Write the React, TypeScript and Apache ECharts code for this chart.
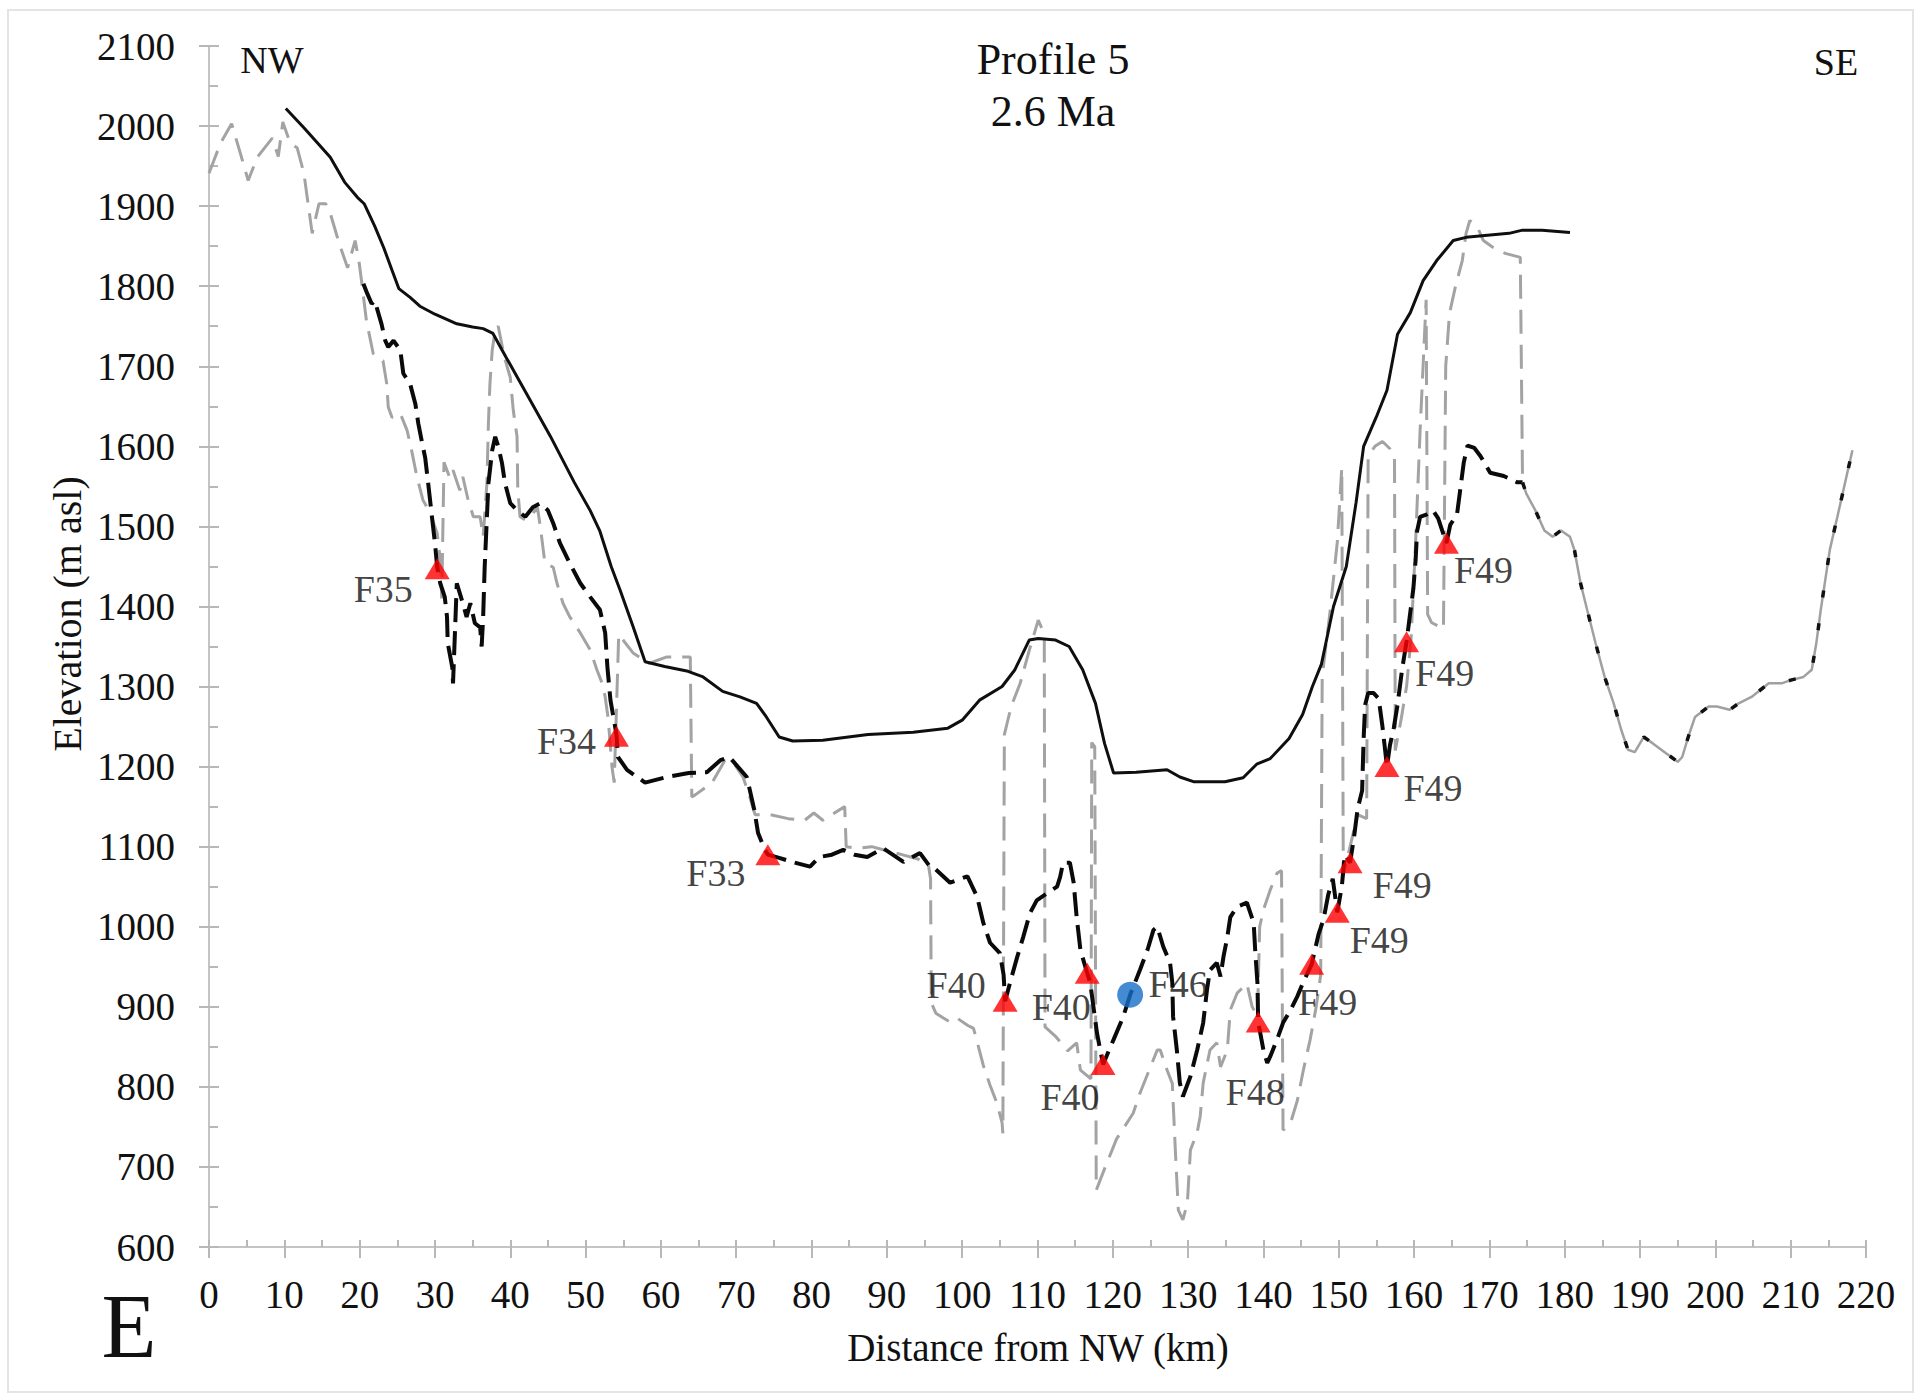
import React, { useEffect, useRef } from "react";
import * as echarts from "echarts";

const SERIF = "'Liberation Serif', 'Times New Roman', serif";

// Axis ranges and tick steps
const X_MIN = 0;
const X_MAX = 220;
const X_STEP = 10;
const Y_MIN = 600;
const Y_MAX = 2100;
const Y_STEP = 100;

// Present-day topographic envelope [distance km, elevation m asl]
const presentSurface: [number, number][] = [
  [10.2, 2022], [12.6, 1998], [14.5, 1978], [16.1, 1961], [18, 1930], [19.7, 1911],
  [20.6, 1903], [22, 1875], [23.2, 1848], [24.3, 1820], [25.2, 1797], [26.7, 1786],
  [28, 1775], [30, 1765], [32.9, 1753], [35, 1749], [36.4, 1747], [37.7, 1741],
  [39.4, 1712], [42.2, 1665], [45.3, 1613], [48.5, 1555], [50.6, 1520], [51.9, 1494],
  [53.4, 1450], [54.6, 1420], [56.3, 1375], [57.9, 1331], [60.5, 1325], [63.6, 1319],
  [65.6, 1312], [68.2, 1294], [70.5, 1287], [72.7, 1279], [74, 1262], [75.7, 1237],
  [77.5, 1232], [81.5, 1233], [87.5, 1240], [93.5, 1243], [98.1, 1248], [100, 1258],
  [102.3, 1283], [105.3, 1300], [107, 1321], [108.9, 1358], [110.1, 1360], [112.4, 1358],
  [114.2, 1350], [116, 1321], [117.7, 1279], [118.9, 1229], [120.1, 1192], [123.1, 1193],
  [127.2, 1196], [128.9, 1187], [130.8, 1181], [134.9, 1181], [137.3, 1186], [139.1, 1203],
  [140.9, 1210], [143.4, 1235], [145.2, 1265], [146.5, 1300], [147.7, 1328], [149.3, 1400],
  [151, 1450], [152.3, 1530], [153.3, 1600], [155, 1637], [156.4, 1670], [157.8, 1740],
  [159.5, 1767], [161.2, 1807], [163, 1832], [165.2, 1857], [166.9, 1861], [172.6, 1866],
  [174.4, 1870], [177, 1870], [180.7, 1867],
];

// Reconstructed 2.6 Ma surface (black dashed)
const paleoSurface: [number, number][] = [
  [20.5, 1803], [21, 1791], [21.6, 1778], [22, 1782], [22.9, 1753], [23.4, 1732],
  [23.8, 1724], [24.5, 1732], [25.4, 1720], [25.8, 1691], [26.7, 1678], [27.4, 1653],
  [27.8, 1628], [28.3, 1604], [28.7, 1586], [29.1, 1554], [29.6, 1512], [30, 1479],
  [30.3, 1449], [30.7, 1429], [31.3, 1412], [31.6, 1387], [31.7, 1354], [32.3, 1324],
  [32.4, 1304], [32.9, 1429], [33.7, 1404], [34.2, 1387], [34.7, 1404], [35.3, 1379],
  [36, 1374], [36.2, 1350], [36.4, 1387], [36.6, 1449], [36.9, 1512], [37.1, 1554],
  [37.6, 1595], [38, 1612], [38.4, 1600], [38.9, 1579], [39.3, 1554], [40, 1529],
  [40.9, 1520], [42, 1512], [43, 1524], [44, 1529], [45, 1520], [45.7, 1504],
  [46.6, 1479], [47.9, 1454], [49.3, 1429], [50.6, 1412], [51.9, 1396], [52.6, 1367],
  [52.9, 1324], [53.3, 1283], [54.1, 1240], [54.3, 1212], [55.5, 1196], [57.9, 1180],
  [60.8, 1187], [63.7, 1192], [66.1, 1193], [67.9, 1208], [69.1, 1212], [70.2, 1200],
  [71.4, 1187], [71.8, 1171], [72.4, 1146], [72.9, 1117], [73.8, 1096], [74.2, 1090],
  [75.7, 1086], [77.4, 1081], [79.8, 1075], [81, 1087], [82.7, 1090], [84.2, 1096],
  [85.7, 1090], [87.4, 1087], [89.5, 1098], [92.2, 1081], [94.4, 1092], [95.8, 1074],
  [96.2, 1074], [98.4, 1055], [100.7, 1063], [102, 1037], [102.8, 1005], [103.7, 980],
  [105, 967], [105.5, 940], [105.7, 907], [106.5, 935], [107.3, 962], [108.1, 987],
  [109, 1017], [109.9, 1033], [111.3, 1042], [112.6, 1050], [113, 1062], [113.4, 1080],
  [114.3, 1080], [114.8, 1055], [115.2, 1012], [115.7, 971], [116.6, 942], [117, 930],
  [117.9, 867], [118.7, 828], [120.1, 859], [121.4, 888], [122.3, 915], [123.6, 946],
  [124.6, 971], [125.4, 996], [125.9, 1000], [126.7, 975], [127.6, 955], [127.9, 930],
  [128, 888], [128.5, 846], [128.9, 805], [129.3, 788], [130.3, 813], [131.2, 846],
  [132, 880], [132.5, 921], [132.9, 946], [133.8, 955], [134.3, 938], [134.7, 963],
  [135.2, 987], [135.6, 1012], [136.5, 1025], [137.8, 1030], [138.7, 1005], [138.9, 971],
  [139.2, 930], [139.3, 881], [140, 846], [140.5, 830], [140.9, 838], [141.8, 859],
  [142.6, 880], [143.6, 896], [144.5, 913], [145.3, 931], [146.4, 953], [147.3, 990],
  [148, 1010], [148.6, 1040], [149.2, 1060], [149.8, 1018], [150.4, 1050], [150.8, 1090],
  [151.5, 1080], [152, 1110], [152.5, 1147], [153.1, 1170], [153.3, 1235], [153.5, 1277],
  [153.9, 1292], [154.6, 1292], [155.3, 1285], [155.8, 1250], [156.4, 1200], [156.8, 1227],
  [157.3, 1248], [157.8, 1277], [158.4, 1321], [159, 1356], [159.5, 1393], [159.9, 1422],
  [160.2, 1458], [160.4, 1494], [160.8, 1512], [161.7, 1515], [162.5, 1520], [163.2, 1510],
  [163.9, 1490], [164.3, 1479], [164.8, 1502], [165.7, 1515], [166.1, 1544], [166.6, 1580],
  [167.1, 1601], [168, 1598], [168.8, 1588], [170.1, 1567], [171.9, 1563], [173.7, 1555],
  [174.4, 1555],
];

// Valley-floor profile (grey dashed)
const valleyProfile: [number, number][] = [
  [0, 1941], [1.5, 1978], [3, 2003], [4.1, 1968], [5.2, 1932], [6.4, 1961], [8.4, 1985],
  [9.2, 1962], [9.8, 2005], [10.8, 1978], [11.7, 1973], [12.6, 1941], [13.7, 1866],
  [14.6, 1903], [15.5, 1903], [16.1, 1891], [17.3, 1853], [18.4, 1823], [19.4, 1857],
  [19.9, 1832], [20.3, 1803], [20.9, 1757], [21.8, 1716], [22.3, 1711], [23.1, 1707],
  [23.6, 1678], [23.8, 1649], [24.3, 1636], [25.4, 1641], [26.3, 1620], [26.9, 1595],
  [27.6, 1562], [28.4, 1533], [29.3, 1518], [30.3, 1491], [30.7, 1458], [30.9, 1410],
  [31.2, 1580], [32, 1560], [32.4, 1570], [33.3, 1545], [33.7, 1562], [34.4, 1533],
  [35.1, 1512], [36, 1512], [36.4, 1487], [36.9, 1554], [37.1, 1629], [37.3, 1678],
  [37.6, 1720], [38, 1745], [38.4, 1750], [39.2, 1712], [40, 1686], [40.4, 1645],
  [40.9, 1612], [41, 1545], [41.3, 1512], [42, 1508], [43, 1516], [43.6, 1524], [44, 1499],
  [44.6, 1454], [45.7, 1449], [46.2, 1429], [47, 1404], [47.9, 1387], [49.3, 1367],
  [50.6, 1346], [51.5, 1321], [52.2, 1304], [52.6, 1287], [53, 1260], [53.5, 1200],
  [53.8, 1180], [54.4, 1365], [56.3, 1342], [58.4, 1329], [60.8, 1337], [63.9, 1337],
  [64.1, 1162], [64.6, 1165], [66.8, 1180], [68.5, 1208], [69.7, 1204], [70.9, 1187],
  [71.8, 1162], [72.5, 1140], [74.5, 1140], [76.9, 1135], [79.1, 1133], [80.3, 1142],
  [81.5, 1133], [82.7, 1140], [84.4, 1150], [84.6, 1100], [86, 1098], [88, 1100],
  [90, 1095], [92, 1090], [94, 1085], [95.5, 1078], [95.8, 1060], [95.9, 905],
  [96.5, 892], [97.5, 886], [98.4, 881], [99.3, 886], [100.7, 877], [101.5, 873],
  [102, 856], [102.8, 827], [103.7, 802], [104.6, 780], [105.3, 755], [105.4, 742],
  [105.6, 1240], [106.5, 1275], [107.7, 1304], [108.9, 1345], [110.1, 1383], [110.7, 1370],
  [110.9, 1360], [111, 875], [112.5, 862], [114, 845], [115.2, 855], [115.7, 821],
  [117.1, 810], [117.2, 1230], [117.6, 1225], [117.8, 671], [119, 700], [120.5, 735],
  [122.7, 767], [123.6, 792], [125, 825], [125.9, 846], [126.3, 846], [127.2, 821],
  [127.9, 804], [128.3, 721], [128.7, 646], [129.3, 634], [129.9, 655], [130.3, 721],
  [131.2, 743], [131.6, 763], [132, 805], [132.9, 846], [133.8, 855], [134.3, 825],
  [135.2, 846], [135.6, 896], [136.5, 917], [137.8, 929], [138.5, 900], [139.2, 888],
  [139.5, 1000], [140, 1021], [140.9, 1046], [141.8, 1067], [142.4, 1070], [142.6, 746],
  [143.6, 755], [144.5, 783], [145.3, 821], [146.2, 859], [147, 900], [147.6, 940],
  [147.8, 1313], [148.8, 1390], [149.8, 1480], [150.4, 1573], [150.6, 1065], [151.5, 1100],
  [152.5, 1140], [153.7, 1135], [153.9, 1588], [154.8, 1600], [155.8, 1606], [156.8, 1597],
  [157.4, 1588], [157.5, 1220], [158.3, 1260], [159, 1300], [159.6, 1360], [160.2, 1480],
  [160.8, 1620], [161.6, 1783], [161.8, 1390], [162.3, 1380], [163.3, 1375], [163.9, 1372],
  [164.2, 1700], [164.7, 1766], [165.5, 1800], [166.4, 1832], [166.9, 1866], [167.4, 1882],
  [168.4, 1874], [169.2, 1857], [170.4, 1849], [172.1, 1841], [174.1, 1836], [174.4, 1555],
];

// Section east of 174 km where both reconstructed profiles coincide
const eastTail: [number, number][] = [
  [174.4, 1555], [174.9, 1541], [176.1, 1520], [177.3, 1495], [178.4, 1487], [179.5, 1495],
  [180.7, 1487], [181.3, 1470], [182.1, 1429], [183, 1395], [184.1, 1354], [185.3, 1312],
  [186.5, 1279], [187.5, 1246], [188.4, 1221], [189.3, 1218], [190.5, 1237], [191.7, 1229],
  [193.4, 1217], [195, 1206], [195.6, 1212], [196.4, 1237], [197.3, 1262], [199.1, 1275],
  [200.2, 1275], [201.9, 1271], [203.1, 1279], [204.8, 1287], [207.1, 1304], [208.8, 1304],
  [210, 1308], [211.7, 1312], [212.8, 1321], [213.4, 1354], [214, 1396], [215.2, 1471],
  [216.2, 1512], [217.4, 1562], [218.2, 1595],
];

// Fault markers
const faultNames = ["F35", "F34", "F33", "F40", "F40", "F40", "F48", "F49", "F49", "F49", "F49", "F49", "F49"];
const faultKm = [30.3, 54.1, 74.2, 105.7, 116.6, 118.7, 139.3, 146.4, 149.8, 151.5, 156.4, 159.0, 164.3];
const faultElev = [1447, 1238, 1090, 907, 942, 828, 881, 953, 1018, 1080, 1200, 1356, 1479];

// Sample site (blue dot)
const siteNames = ["F46"];
const siteKm = [122.3];
const siteElev = [915];

// Label placement relative to each marker centre (px)
const faultLabelOffsets: [number, number][] = [
  [-54, 20], [-50, 5], [-52, 18], [-49, -16], [-26, 34], [-33, 33], [-3, 70],
  [16, 38], [42, 28], [52, 22], [46, 21], [38, 31], [37, 27],
];
const siteLabelOffsets: [number, number][] = [[48, -11]];

const TEXT = "#111111";
const AXIS_GREY = "#c4c4c4";
const TICK_GREY = "#b8b8b8";

function buildOption(): echarts.EChartsOption {
  const labelBase = {
    show: true,
    position: "inside" as const,
    formatter: "{b}",
    fontFamily: SERIF,
    fontSize: 38,
    color: TEXT,
    textBorderWidth: 0,
  };

  const faultData = faultNames.map((n, i) => ({
    name: n,
    value: [faultKm[i], faultElev[i]],
    label: { offset: faultLabelOffsets[i] },
  }));
  const siteData = siteNames.map((n, i) => ({
    name: n,
    value: [siteKm[i], siteElev[i]],
    label: { offset: siteLabelOffsets[i] },
  }));

  const tickLine = { color: TICK_GREY, width: 2 };

  return {
    animation: false,
    backgroundColor: "#ffffff",
    grid: { left: 209, right: 61, top: 46, bottom: 151, containLabel: false },
    xAxis: [
      {
        type: "value",
        min: X_MIN,
        max: X_MAX,
        interval: X_STEP,
        position: "bottom",
        axisLine: { show: true, lineStyle: { color: AXIS_GREY, width: 2 } },
        axisTick: { show: true, inside: false, length: 11, lineStyle: tickLine },
        axisLabel: {
          margin: 28,
          fontFamily: SERIF,
          fontSize: 39,
          color: TEXT,
          formatter: (v: number) => String(v),
        },
        splitLine: { show: false },
      },
      {
        type: "value",
        min: X_MIN,
        max: X_MAX,
        interval: X_STEP,
        position: "bottom",
        axisLine: { show: false },
        axisTick: { show: true, inside: true, length: 7, lineStyle: tickLine },
        minorTick: { show: true, splitNumber: 2, length: 7, lineStyle: tickLine },
        axisLabel: { show: false },
        splitLine: { show: false },
      },
    ],
    yAxis: [
      {
        type: "value",
        min: Y_MIN,
        max: Y_MAX,
        interval: Y_STEP,
        position: "left",
        axisLine: { show: true, lineStyle: { color: AXIS_GREY, width: 2 } },
        axisTick: { show: true, inside: false, length: 10, lineStyle: tickLine },
        axisLabel: {
          margin: 34,
          fontFamily: SERIF,
          fontSize: 39,
          color: TEXT,
          formatter: (v: number) => String(v),
        },
        splitLine: { show: false },
      },
      {
        type: "value",
        min: Y_MIN,
        max: Y_MAX,
        interval: Y_STEP,
        position: "left",
        axisLine: { show: false },
        axisTick: { show: true, inside: true, length: 10, lineStyle: tickLine },
        minorTick: { show: true, splitNumber: 2, length: 9, lineStyle: tickLine },
        axisLabel: { show: false },
        splitLine: { show: false },
      },
    ],
    series: [
      {
        type: "line",
        name: "valley",
        data: valleyProfile,
        symbol: "none",
        lineStyle: { color: "#a3a3a3", width: 3, type: [24, 11] },
        z: 2,
      },
      {
        type: "line",
        name: "present",
        data: presentSurface,
        symbol: "none",
        lineStyle: { color: "#0f0f0f", width: 3, type: "solid" },
        z: 3,
      },
      {
        type: "line",
        name: "paleo",
        data: paleoSurface,
        symbol: "none",
        lineStyle: { color: "#0a0a0a", width: 4, type: [24, 9] },
        z: 4,
      },
      {
        type: "line",
        name: "tailGrey",
        data: eastTail,
        symbol: "none",
        lineStyle: { color: "#a0a0a0", width: 2.5, type: "solid" },
        z: 4,
      },
      {
        type: "line",
        name: "tailBlack",
        data: eastTail,
        symbol: "none",
        lineStyle: { color: "#111111", width: 3.5, type: [7, 26] },
        z: 5,
      },
      {
        type: "scatter",
        name: "faults",
        data: faultData,
        symbol: "triangle",
        symbolSize: [25, 21],
        itemStyle: { color: "#ff0000" },
        label: labelBase,
        z: 10,
      },
      {
        type: "scatter",
        name: "site",
        data: siteData,
        symbol: "circle",
        symbolSize: 26,
        itemStyle: { color: "#156ec8" },
        label: labelBase,
        z: 11,
      },
    ],
    graphic: [
      {
        type: "rect",
        shape: { x: 8, y: 10, width: 1905, height: 1382 },
        style: { fill: "none", stroke: "#e4e4e4", lineWidth: 2 },
        silent: true,
        z: -1,
      },
      {
        type: "text",
        x: 272,
        y: 60,
        style: { text: "NW", fontFamily: SERIF, fontSize: 38, fill: TEXT, align: "center", verticalAlign: "middle" },
      },
      {
        type: "text",
        x: 1836,
        y: 62,
        style: { text: "SE", fontFamily: SERIF, fontSize: 38, fill: TEXT, align: "center", verticalAlign: "middle" },
      },
      {
        type: "text",
        x: 1053,
        y: 59,
        style: { text: "Profile 5", fontFamily: SERIF, fontSize: 44, fill: TEXT, align: "center", verticalAlign: "middle" },
      },
      {
        type: "text",
        x: 1053,
        y: 111,
        style: { text: "2.6 Ma", fontFamily: SERIF, fontSize: 44, fill: TEXT, align: "center", verticalAlign: "middle" },
      },
      {
        type: "text",
        x: 67,
        y: 614,
        rotation: Math.PI / 2,
        style: {
          text: "Elevation (m asl)",
          fontFamily: SERIF,
          fontSize: 40,
          fill: TEXT,
          align: "center",
          verticalAlign: "middle",
        },
      },
      {
        type: "text",
        x: 1038,
        y: 1347,
        style: {
          text: "Distance from NW (km)",
          fontFamily: SERIF,
          fontSize: 39,
          fill: TEXT,
          align: "center",
          verticalAlign: "middle",
        },
      },
      {
        type: "text",
        x: 129,
        y: 1326,
        style: { text: "E", fontFamily: SERIF, fontSize: 90, fill: "#111111", align: "center", verticalAlign: "middle" },
      },
    ],
  } as echarts.EChartsOption;
}

export default function App() {
  const ref = useRef<HTMLDivElement | null>(null);

  useEffect(() => {
    if (!ref.current) return;
    const chart = echarts.init(ref.current, undefined, { renderer: "svg" });
    chart.setOption(buildOption());
    return () => {
      chart.dispose();
    };
  }, []);

  return (
    <div
      ref={ref}
      style={{
        position: "fixed",
        left: 0,
        top: 0,
        width: 1927,
        height: 1398,
        background: "#ffffff",
      }}
    />
  );
}
